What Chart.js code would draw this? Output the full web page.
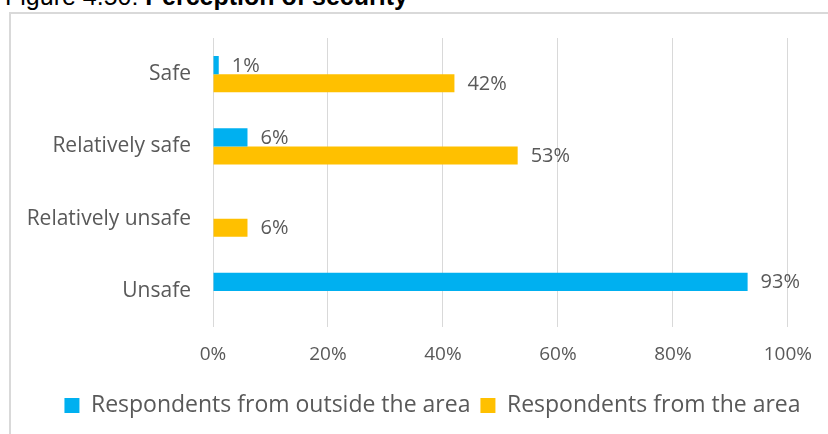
<!DOCTYPE html>
<html>
<head>
<meta charset="utf-8">
<script src="https://cdn.jsdelivr.net/npm/chart.js@4"></script>
<style>
  html, body { margin: 0; padding: 0; background: #fff; overflow: hidden; }
  #wrap { position: relative; width: 828px; height: 434px; }
  #title {
    position: absolute; left: 5px; top: -18px; line-height: 25px;
    font: 25px "Liberation Sans", Arial, sans-serif; color: #000; white-space: nowrap;
  }
  #frame {
    position: absolute; left: 9px; top: 12px; right: -5px; bottom: -5px;
    border-left: 2px solid #d9d9d9; border-top: 2px solid #d9d9d9;
  }
  canvas { position: absolute; left: 0; top: 0; }
</style>
</head>
<body>
<div id="wrap">
  <div id="title">Figure 4.50: <b>Perception of security</b></div>
  <div id="frame"></div>
  <canvas id="securityChart" width="828" height="434"></canvas>
</div>
<script>
const categories = ['Safe', 'Relatively safe', 'Relatively unsafe', 'Unsafe'];
const outsideArea = [1, 6, 0, 93];
const fromArea = [42, 53, 6, 0];
const xTicks = [0, 20, 40, 60, 80, 100];

const textGray = '#595959';

// value labels to the right of each bar (zero bars get none)
const barLabels = {
    id: 'barLabels',
    afterDatasetsDraw(chart) {
        const ctx = chart.ctx;
        ctx.save();
        ctx.font = '20px "Open Sans"';
        ctx.fillStyle = textGray;
        ctx.textAlign = 'left';
        ctx.textBaseline = 'middle';
        chart.data.datasets.forEach((ds, i) => {
            chart.getDatasetMeta(i).data.forEach((bar, j) => {
                if (!ds.data[j]) return;
                ctx.fillText(ds.data[j] + '%', bar.x + 13, bar.y + 1);
            });
        });
        ctx.restore();
    }
};

// nudge the legend right so it sits where the original one does
const legendShift = {
    id: 'legendShift',
    afterLayout(chart) {
        chart.legend.left += 38;
        chart.legend.right += 38;
    }
};

const securityChart = new Chart(document.getElementById('securityChart'), {
    type: 'bar',
    data: {
        labels: categories,
        datasets: [{
            label: 'Respondents from outside the area',
            data: outsideArea,
            backgroundColor: '#00B0F0',
            categoryPercentage: 0.505,
            barPercentage: 1
        }, {
            label: 'Respondents from the area',
            data: fromArea,
            backgroundColor: '#FFC000',
            categoryPercentage: 0.505,
            barPercentage: 1
        }]
    },
    options: {
        indexAxis: 'y',
        responsive: false,
        animation: false,
        layout: { padding: { top: 38, left: 0, right: 39, bottom: 7 } },
        scales: {
            x: {
                min: 0,
                max: 100,
                afterBuildTicks: (scale) => { scale.ticks = xTicks.map(v => ({ value: v })); },
                afterFit: (scale) => { scale.height = 57; },
                grid: { color: '#d9d9d9', lineWidth: 1, drawTicks: false },
                border: { display: false },
                ticks: {
                    padding: 16,
                    color: textGray,
                    font: { family: 'Open Sans', size: 19 },
                    callback: (v) => v + '%'
                }
            },
            y: {
                afterFit: (scale) => { scale.width = 213; },
                grid: { display: false, drawTicks: false },
                border: { display: false },
                ticks: { padding: 22, color: textGray, font: { family: 'Open Sans', size: 21 } }
            }
        },
        plugins: {
            legend: {
                position: 'bottom',
                labels: {
                    boxWidth: 15,
                    boxHeight: 15,
                    padding: 10,
                    color: textGray,
                    font: { family: 'Open Sans', size: 23 }
                }
            },
            tooltip: { enabled: false }
        }
    },
    plugins: [barLabels, legendShift]
});
</script>
</body>
</html>
